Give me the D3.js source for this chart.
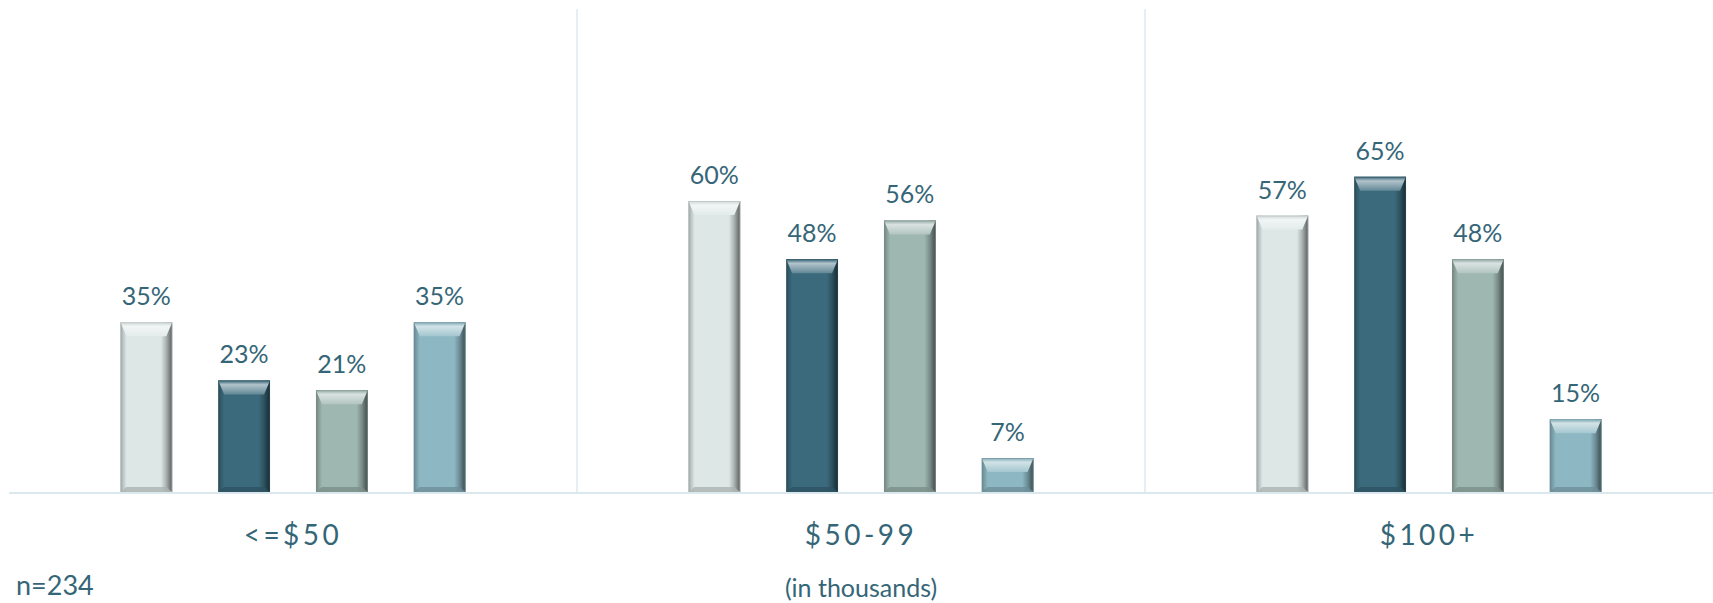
<!DOCTYPE html>
<html>
<head>
<meta charset="utf-8">
<script src="https://cdn.jsdelivr.net/npm/d3@7"></script>
<style>
  html, body { margin: 0; padding: 0; background: #ffffff; }
  svg { display: block; }
  text { font-family: Lato, "Open Sans", sans-serif; fill: #356677; }
</style>
</head>
<body>
<script>
// Income brackets and the share for each of four groups
const categories = ["<=$50", "$50-99", "$100+"];
const seriesKeys = ["s1", "s2", "s3", "s4"];
const seriesColors = ["#dce7e6", "#3b6a7c", "#9fb7b1", "#8db8c3"];
const s1Values = [35, 60, 57];
const s2Values = [23, 48, 65];
const s3Values = [21, 56, 48];
const s4Values = [35, 7, 15];
const valuesBySeries = [s1Values, s2Values, s3Values, s4Values];
const footnote = "n=234";
const axisNote = "(in thousands)";

const width = 1713, height = 603;
const svg = d3.select("body").append("svg")
  .attr("width", width).attr("height", height);

const x0 = d3.scaleBand().domain(categories).range([9, 1713]).padding(0);
const x1 = d3.scaleBand().domain(seriesKeys).range([0, x0.bandwidth()])
  .paddingInner(0.47).paddingOuter(1.14);
const y = d3.scaleLinear().domain([0, 100]).range([492, 7]);

const lineColor = "#dbe9ef";

// Group separators
svg.append("g").selectAll("line")
  .data(categories.slice(1))
  .join("line")
  .attr("x1", d => x0(d)).attr("x2", d => x0(d))
  .attr("y1", 9).attr("y2", y(0))
  .attr("stroke", lineColor).attr("stroke-width", 1.5);

// Bevel gradients per series
const defs = svg.append("defs");
seriesColors.forEach((c, i) => {
  const base = d3.color(c);
  const g = defs.append("linearGradient").attr("id", "face" + i)
    .attr("x1", "0").attr("x2", "1").attr("y1", "0").attr("y2", "0");
  const stops = [
    [0, base.darker(1.0)], [0.05, base.darker(0.45)], [0.12, base],
    [0.78, base], [0.88, base.darker(0.7)], [0.96, base.darker(1.8)], [1, base.darker(2.4)]
  ];
  stops.forEach(([o, col]) => g.append("stop").attr("offset", o).attr("stop-color", col.formatHex()));
  const t = defs.append("linearGradient").attr("id", "top" + i)
    .attr("x1", "0").attr("x2", "0").attr("y1", "0").attr("y2", "1");
  t.append("stop").attr("offset", 0).attr("stop-color", base.darker(0.2).formatHex());
  t.append("stop").attr("offset", 0.3).attr("stop-color", d3.interpolateRgb(c, "#ffffff")(0.6));
  t.append("stop").attr("offset", 1).attr("stop-color", d3.interpolateRgb(c, "#ffffff")(0.2));
});

const rows = [];
categories.forEach((cat, ci) => {
  seriesKeys.forEach((k, si) => {
    rows.push({ cat, key: k, si, value: valuesBySeries[si][ci] });
  });
});

const bars = svg.append("g").selectAll("g.bar")
  .data(rows)
  .join("g")
  .attr("class", "bar")
  .attr("transform", d => `translate(${x0(d.cat) + x1(d.key)},0)`);

const bw = x1.bandwidth();
const bevT = 14, bevS = 6, bevB = 5;

bars.append("rect")
  .attr("x", 0).attr("width", bw)
  .attr("y", d => y(d.value)).attr("height", d => y(0) - y(d.value))
  .attr("fill", d => `url(#face${d.si})`);

// top bevel
bars.append("path")
  .attr("d", d => {
    const t = y(d.value), h = Math.min(bevT, (y(0) - t) / 2);
    return `M0,${t}L${bw},${t}L${bw - bevS},${t + h}L${bevS},${t + h}Z`;
  })
  .attr("fill", d => `url(#top${d.si})`);

// bottom bevel
bars.append("path")
  .attr("d", d => {
    const b = y(0);
    return `M0,${b}L${bw},${b}L${bw - bevS},${b - bevB}L${bevS},${b - bevB}Z`;
  })
  .attr("fill", d => d3.color(seriesColors[d.si]).darker(0.7).formatHex())
  .attr("opacity", 0.8);

// outline
bars.append("rect")
  .attr("x", 0.5).attr("width", bw - 1)
  .attr("y", d => y(d.value) + 0.5).attr("height", d => y(0) - y(d.value) - 1)
  .attr("fill", "none")
  .attr("stroke", d => d3.color(seriesColors[d.si]).darker(0.6).formatHex())
  .attr("stroke-opacity", 0.5);

// value labels
bars.append("text")
  .attr("x", bw / 2)
  .attr("y", d => y(d.value) - 17)
  .attr("text-anchor", "middle")
  .attr("font-size", 25)
  .text(d => d.value + "%");

// baseline
svg.append("line")
  .attr("x1", 9).attr("x2", 1713)
  .attr("y1", y(0) + 1).attr("y2", y(0) + 1)
  .attr("stroke", lineColor).attr("stroke-width", 2);

// category labels
svg.append("g").selectAll("text")
  .data(categories)
  .join("text")
  .attr("x", d => x0(d) + x0.bandwidth() / 2)
  .attr("y", 545)
  .attr("text-anchor", "middle")
  .attr("font-size", 28)
  .attr("letter-spacing", 3.5)
  .text(d => d);

svg.append("text")
  .attr("x", x0(categories[1]) + x0.bandwidth() / 2)
  .attr("y", 597)
  .attr("text-anchor", "middle")
  .attr("font-size", 25)
  .text(axisNote);

svg.append("text")
  .attr("x", 16)
  .attr("y", 595)
  .attr("font-size", 27)
  .text(footnote);
</script>
</body>
</html>
